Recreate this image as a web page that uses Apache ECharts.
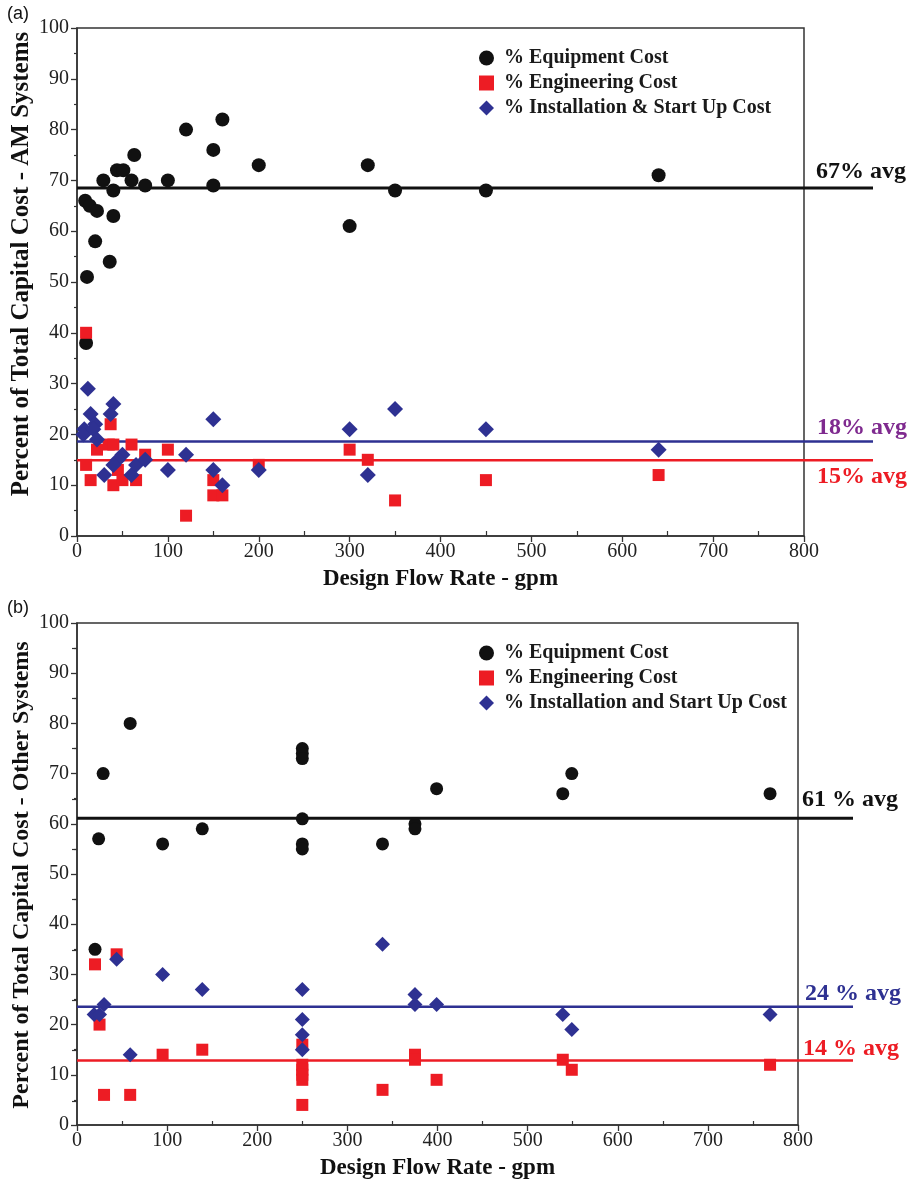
<!DOCTYPE html>
<html><head><meta charset="utf-8">
<script src="https://cdn.jsdelivr.net/npm/echarts@6/dist/echarts.min.js"></script>
<style>html,body{margin:0;padding:0;background:#fff}#c{width:908px;height:1181px}</style>
</head><body><div id="c"></div>
<script>
// ---------- DATA ----------
const seriesNamesA = ['% Equipment Cost', '% Engineering Cost', '% Installation & Start Up Cost'];
const seriesNamesB = ['% Equipment Cost', '% Engineering Cost', '% Installation and Start Up Cost'];

// Panel (a) AM Systems: [design flow rate gpm, percent]
const amEquipment = [[10,38],[11,51],[9,66],[14,65],[22,64],[20,58],[36,54],[40,63],[40,68],[29,70],[44,72],[51,72],[63,75],[60,70],[75,69],[100,70],[120,80],[150,76],[150,69],[160,82],[200,73],[300,61],[320,73],[350,68],[450,68],[640,71]];
const amEngineering = [[10,40],[37,22],[35,18],[40,18],[60,18],[22,17],[75,16],[100,17],[10,14],[45,13],[15,11],[40,10],[50,11],[65,11],[120,4],[150,11],[150,8],[160,8],[200,14],[300,17],[320,15],[350,7],[450,11],[640,12]];
const amInstallation = [[12,29],[15,24],[40,26],[37,24],[20,22],[8,21],[7,20],[18,21],[22,19],[50,16],[45,15],[40,14],[30,12],[60,12],[65,14],[75,15],[100,13],[120,16],[150,23],[150,13],[160,10],[200,13],[300,21],[320,12],[350,25],[450,21],[640,17]];
const amAverages = [68.5, 18.6, 14.9];
const amAvgLabels = ['67% avg', '18% avg', '15% avg'];

// Panel (b) Other Systems
const otherEquipment = [[20,35],[24,57],[29,70],[59,80],[95,56],[139,59],[250,75],[250,74],[250,73],[250,61],[250,56],[250,55],[339,56],[375,60],[375,59],[399,67],[539,66],[549,70],[769,66]];
const otherEngineering = [[20,32],[44,34],[25,20],[30,6],[59,6],[95,14],[139,15],[250,16],[250,12],[250,11],[250,10],[250,9],[250,4],[339,7],[375,14],[375,13],[399,9],[539,13],[549,11],[769,12]];
const otherInstallation = [[19,22],[25,22],[30,24],[44,33],[59,14],[95,30],[139,27],[250,27],[250,21],[250,18],[250,15],[339,36],[375,26],[375,24],[399,24],[539,22],[549,19],[769,22]];
const otherAverages = [61.2, 23.7, 13.0];
const otherAvgLabels = ['61 % avg', '24 % avg', '14 % avg'];

const xMin = 0, xMax = 800, xInterval = 100;
const yMin = 0, yMax = 100, yInterval = 10;

// ---------- STYLE ----------
const SERIF = "'Liberation Serif','Times New Roman',serif";
const BLACK = '#111111', RED = '#ED1C24', BLUE = '#2E3192', PURPLE = '#7F2A8F';
const avgLabelColorsA = [BLACK, PURPLE, RED];
const avgLabelColorsB = [BLACK, BLUE, RED];
const avgLineColors = [BLACK, BLUE, RED];
const symbols = ['circle', 'rect', 'diamond'];

const chart = echarts.init(document.getElementById('c'));

const P = [
  {top: 28, height: 508, left: 77, width: 727, avgWidth: 796, sizes: [14, 12, 16]},
  {top: 623, height: 503, left: 77, width: 721, avgWidth: 776, sizes: [13, 12, 15]}
];

const grids = [], xAxes = [], yAxes = [], series = [];
function mainX(gi, name) {
  return {gridIndex: gi, type: 'value', min: xMin, max: xMax, interval: xInterval,
    axisLine: {show: true, onZero: false, lineStyle: {color: '#333', width: 1.5}},
    axisTick: {show: true, inside: false, length: 6, lineStyle: {color: '#333', width: 1.3}},
    axisLabel: {fontFamily: SERIF, fontSize: 20, color: '#222', margin: 6},
    splitLine: {show: false},
    name: name, nameLocation: 'middle', nameGap: 32,
    nameTextStyle: {fontFamily: SERIF, fontSize: 23, fontWeight: 'bold', color: '#111'}};
}
function mainY(gi) {
  return {gridIndex: gi, type: 'value', min: yMin, max: yMax, interval: yInterval,
    axisLine: {show: true, onZero: false, lineStyle: {color: '#333', width: 1.5}},
    axisTick: {show: true, inside: false, length: 6, lineStyle: {color: '#333', width: 1.3}},
    minorTick: {show: true, splitNumber: 2, length: 3, lineStyle: {color: '#333', width: 1.2}},
    axisLabel: {fontFamily: SERIF, fontSize: 20, color: '#222', margin: 8},
    splitLine: {show: false}};
}
function hiddenAxis(gi, min, max) { return {gridIndex: gi, type: 'value', min: min, max: max, show: false}; }

P.forEach((p, k) => {
  const base = grids.length;
  grids.push({left: p.left, top: p.top, width: p.width, height: p.height, show: true, borderColor: '#333', borderWidth: 1.5, backgroundColor: 'transparent'});
  xAxes.push(mainX(base, 'Design Flow Rate - gpm'));
  yAxes.push(mainY(base));
  grids.push({left: p.left, top: p.top, width: p.avgWidth, height: p.height});
  xAxes.push(hiddenAxis(base + 1, 0, 1));
  yAxes.push(hiddenAxis(base + 1, yMin, yMax));
  const pxPer = p.width / (xMax - xMin);
  grids.push({left: p.left + 50 * pxPer, top: p.top, width: 700 * pxPer, height: p.height});
  xAxes.push({gridIndex: base + 2, type: 'value', min: 50, max: 750, interval: 100,
    axisLine: {show: false}, axisLabel: {show: false}, splitLine: {show: false},
    axisTick: {show: true, inside: true, length: 5, lineStyle: {color: '#333', width: 1.2}}});
  yAxes.push(hiddenAxis(base + 2, yMin, yMax));
});

{
  const p = P[1];
  const pyPer = p.height / (yMax - yMin);
  grids.push({left: p.left, top: p.top + 5 * pyPer, width: p.width, height: 90 * pyPer});
  const gi = grids.length - 1;
  xAxes.push(hiddenAxis(gi, 0, 1));
  yAxes.push({gridIndex: gi, type: 'value', position: 'right', min: 5, max: 95, interval: 10,
    axisLine: {show: false}, axisLabel: {show: false}, splitLine: {show: false},
    axisTick: {show: true, inside: true, length: 5, lineStyle: {color: '#333', width: 1.2}}});
}

function addPanel(axBase, names, eq, en, ins, avgs, sizes) {
  const sets = [[eq, BLACK], [en, RED], [ins, BLUE]];
  sets.forEach((s, i) => {
    series.push({type: 'scatter', name: names[i], xAxisIndex: axBase, yAxisIndex: axBase,
      data: s[0], symbol: symbols[i], symbolSize: sizes[i], itemStyle: {color: s[1], opacity: 1}, z: 3 + i,
      emphasis: {disabled: true}});
  });
  avgs.forEach((v, i) => {
    series.push({type: 'line', name: 'avg' + axBase + '_' + i, xAxisIndex: axBase + 1, yAxisIndex: axBase + 1,
      data: [[0, v], [1, v]], symbol: 'none', silent: true, z: 2,
      lineStyle: {color: avgLineColors[i], width: i === 0 ? 3 : 2.5}});
  });
}
addPanel(0, seriesNamesA, amEquipment, amEngineering, amInstallation, amAverages, P[0].sizes);
addPanel(3, seriesNamesB, otherEquipment, otherEngineering, otherInstallation, otherAverages, P[1].sizes);

const legendIconSizes = [[14, 14], [13, 13], [15, 15]];
const legendStyle = {orient: 'vertical', left: 474, itemWidth: 15, itemHeight: 15, itemGap: 5,
  formatter: ' {name}', selectedMode: false,
  textStyle: {fontFamily: SERIF, fontSize: 20, fontWeight: 'bold', color: '#1a1a1a', lineHeight: 20}};
function legendData(names) {
  return names.map((n, i) => ({name: n, icon: symbols[i]}));
}

chart.setOption({
  animation: false,
  backgroundColor: '#fff',
  grid: grids, xAxis: xAxes, yAxis: yAxes, series: series,
  legend: [
    Object.assign({}, legendStyle, {top: 43, data: legendData(seriesNamesA)}),
    Object.assign({}, legendStyle, {top: 638, data: legendData(seriesNamesB)})
  ]
});

const graphics = [];
const labelOffA = [-16, -14, 16], labelOffB = [-18, -12, -11];
const labelXA = [816, 817, 817], labelXB = [802, 805, 803];
amAverages.forEach((v, i) => {
  const y = chart.convertToPixel({yAxisIndex: 0}, v) + labelOffA[i];
  graphics.push({type: 'text', left: labelXA[i], top: y - 12,
    style: {text: amAvgLabels[i], fontFamily: SERIF, fontSize: 24, fontWeight: 'bold', fill: avgLabelColorsA[i]}});
});
otherAverages.forEach((v, i) => {
  const y = chart.convertToPixel({yAxisIndex: 3}, v) + labelOffB[i];
  graphics.push({type: 'text', left: labelXB[i], top: y - 12,
    style: {text: otherAvgLabels[i], fontFamily: SERIF, fontSize: 24, fontWeight: 'bold', fill: avgLabelColorsB[i]}});
});
graphics.push({type: 'text', x: 22, y: 264, rotation: Math.PI / 2,
  style: {text: 'Percent of Total Capital Cost - AM Systems', fontFamily: SERIF, fontSize: 25, fontWeight: 'bold', fill: '#111', align: 'center', verticalAlign: 'middle'}});
graphics.push({type: 'text', x: 22, y: 875, rotation: Math.PI / 2,
  style: {text: 'Percent of Total Capital Cost - Other Systems', fontFamily: SERIF, fontSize: 24, fontWeight: 'bold', fill: '#111', align: 'center', verticalAlign: 'middle'}});
graphics.push({type: 'text', left: 7, top: 5, style: {text: '(a)', fontFamily: "'Liberation Sans',Arial,sans-serif", fontSize: 18, fill: '#111'}});
graphics.push({type: 'text', left: 7, top: 599, style: {text: '(b)', fontFamily: "'Liberation Sans',Arial,sans-serif", fontSize: 18, fill: '#111'}});
chart.setOption({graphic: graphics});
</script>
</body></html>
